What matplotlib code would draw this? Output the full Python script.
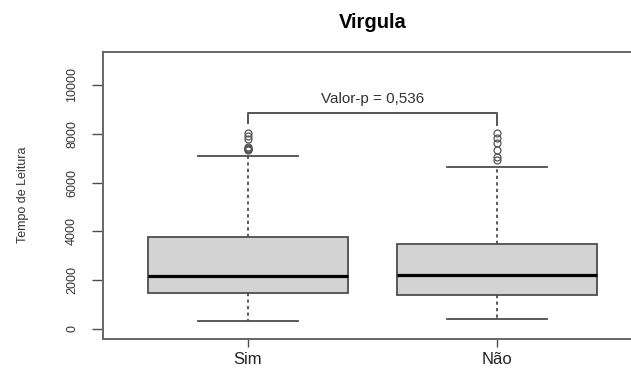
import matplotlib
matplotlib.use('Agg')
import matplotlib.pyplot as plt

plt.rcParams['font.family'] = ['Liberation Sans', 'DejaVu Sans']

groups = ['Sim', 'Não']
q1 = [1490, 1390]
medians = [2180, 2210]
q3 = [3780, 3480]
whisk_lo = [340, 410]
whisk_hi = [7100, 6630]
fliers_sim = [8020, 7910, 7775, 7470, 7420, 7390, 7365, 7340]
fliers_nao = [8020, 7815, 7610, 7336, 7062, 6926]
y_ticks = [0, 2000, 4000, 6000, 8000, 10000]
p_text = 'Valor-p = 0,536'

stats = []
for i, name in enumerate(groups):
    stats.append({
        'label': name,
        'q1': q1[i], 'med': medians[i], 'q3': q3[i],
        'whislo': whisk_lo[i], 'whishi': whisk_hi[i],
        'fliers': [fliers_sim, fliers_nao][i],
    })

fig = plt.figure(figsize=(6.31, 3.68), dpi=100)
ax = fig.add_axes([103 / 631, 29 / 368, 539 / 631, 287 / 368])

edge = '#4d4d4d'
ax.bxp(stats, positions=[1, 2], widths=0.8, patch_artist=True,
       boxprops=dict(facecolor='#d3d3d3', edgecolor=edge, linewidth=1.3),
       medianprops=dict(color='black', linewidth=2.3),
       whiskerprops=dict(color=edge, linewidth=1.3, linestyle=(0, (1.8, 1.8))),
       capprops=dict(color=edge, linewidth=1.3),
       capwidths=0.4,
       flierprops=dict(marker='o', markerfacecolor='none', markeredgecolor='#555555',
                       markersize=5, markeredgewidth=0.9))

ax.set_xlim(0.42, 2.58)
ax.set_ylim(-410, 11350)
ax.set_yticks(y_ticks)
ax.set_yticklabels([str(t) for t in y_ticks], rotation=90, va='center', fontsize=9, color='#333333')
ax.set_xticks([1, 2])
ax.set_xticklabels(groups, fontsize=12, color='#222222')
ax.tick_params(axis='y', length=8, width=1, color=edge, pad=10)
ax.tick_params(axis='x', length=5.5, width=1, color=edge, pad=3.5)

for side in ['left', 'bottom', 'top']:
    ax.spines[side].set_color('#666666')
    ax.spines[side].set_linewidth(1.4)
ax.spines['right'].set_visible(False)

# bracket and p-value
ax.plot([1, 1, 2, 2], [8440, 8850, 8850, 8360], color='#555555', linewidth=1.4, clip_on=False)
ax.text(1.5, 9430, p_text, ha='center', va='center', fontsize=11, color='#333333')

fig.text(23 / 631, 1 - 195 / 368, 'Tempo de Leitura', rotation=90, ha='center', va='center',
         fontsize=9, color='#333333')
fig.text(373 / 631, 1 - 23 / 368, 'Virgula', ha='center', va='center',
         fontsize=14.5, fontweight='bold')

plt.savefig('out.png', dpi=100)
